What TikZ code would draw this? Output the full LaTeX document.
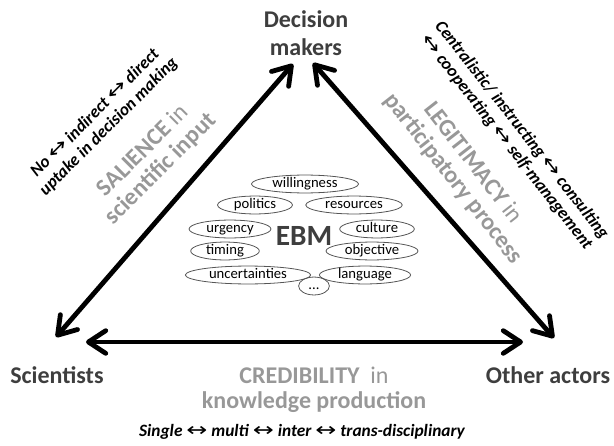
\documentclass[tikz,border=0pt]{standalone}
\usepackage{fontspec}
\usepackage{graphicx}
\setmainfont{Carlito}
\newfontfamily\arrowfont{DejaVu Sans}
\usetikzlibrary{arrows.meta,shapes.geometric}

\definecolor{actorgray}{RGB}{62,62,62}
\definecolor{critgray}{RGB}{152,152,152}
\definecolor{ovalgray}{RGB}{85,85,85}

% two-headed arrow used inside the scale notes
\newcommand{\lra}{{\arrowfont\mdseries\upshape\scalebox{1.45}[1.1]{↔}}}

\tikzset{every picture/.style={line width=0.75pt}}
\tikzset{
  actor/.style={font=\fontsize{18}{21}\selectfont\bfseries, text=actorgray, align=center},
  criterion/.style={font=\fontsize{18}{19}\selectfont\bfseries, text=critgray, align=center},
  scalenote/.style={font=\fontsize{13}{14.5}\selectfont\bfseries\itshape, align=center},
  factor/.style={ellipse, draw=ovalgray, line width=0.6pt, inner xsep=4pt, inner ysep=0pt, text height=7.5pt, text depth=2pt, font=\fontsize{11}{13}\selectfont},
  link/.style={line width=3.6pt, line cap=round, {Straight Barb[round,length=13pt,width=17pt]}-{Straight Barb[round,length=13pt,width=17pt]}}
}

\begin{document}
\begin{tikzpicture}[x=0.75pt,y=0.75pt,yscale=-1,xscale=1]
	\useasboundingbox (0,0) rectangle (614,446);

	% Actors
	\node [actor] (dm) at (306,33) {Decision\\makers};
	\node [actor, anchor=base] (sci) at (57,383) {Scientists};
	\node [actor, anchor=base] (oth) at (548,383) {Other actors};

	% Arrow ends
	\coordinate (dmL) at (293,64);
	\coordinate (dmR) at (313,63);
	\coordinate (sciT) at (56,337);
	\coordinate (sciR) at (86,342);
	\coordinate (othT) at (554,338);
	\coordinate (othL) at (523,342);

	%Straight Lines
	\draw [link] (sciT) -- (dmL) ;
	\draw [link] (dmR) -- (othT) ;
	\draw [link] (sciR) -- (othL) ;

	% Criteria
	\node [criterion, rotate=45] (sal) at (152,160) {SALIENCE {\mdseries in}\\scientific input};
	\node [criterion, rotate=-52] (leg) at (463,171) {LEGITIMACY {\mdseries in}\\participatory process};
	\node [criterion] (cred) at (314,390) {CREDIBILITY \ {\mdseries in}\\knowledge production};

	% Scale notes
	\node [scalenote, rotate=45] (salnote) at (102,120) {No \lra{} indirect \lra{} direct\\uptake in decision making};
	\node [scalenote, rotate=-52] (legnote) at (514,136) {Centralistic/ instructing \lra{} consulting\\\lra{} cooperating \lra{} self-management};
	\node [scalenote, anchor=base] (crednote) at (302,436) {Single \lra{} multi \lra{} inter \lra{} trans-disciplinary};

	% EBM and factors
	\node [font=\fontsize{22}{26}\selectfont\bfseries, text=actorgray] (ebm) at (304,236) {EBM};
	\node [factor] (will) at (305,184) {willingness};
	\node [factor] (pol) at (255,205) {politics};
	\node [factor] (res) at (354,205) {resources};
	\node [factor] (urg) at (230,229) {urgency};
	\node [factor] (cul) at (377,229) {culture};
	\node [factor] (tim) at (225,251) {timing};
	\node [factor] (obj) at (372,251) {objective};
	\node [factor] (unc) at (248,275) {uncertainties};
	\node [factor] (lang) at (365,275) {language};
	\node [factor] (etc) at (314,286) {...};

\end{tikzpicture}
\end{document}
